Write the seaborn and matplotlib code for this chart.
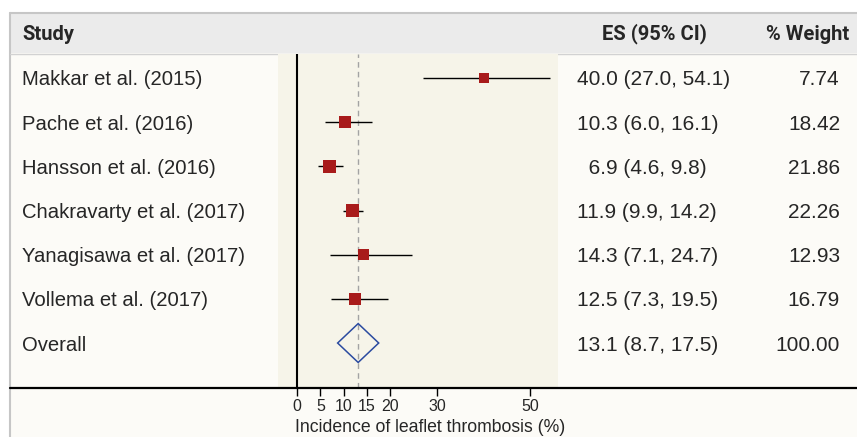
import numpy as np
import pandas as pd
import matplotlib
matplotlib.use("Agg")
import matplotlib.pyplot as plt
from matplotlib.patches import Rectangle
from matplotlib.lines import Line2D
from matplotlib.transforms import blended_transform_factory
import seaborn as sns

studies = ["Makkar et al. (2015)", "Pache et al. (2016)", "Hansson et al. (2016)",
           "Chakravarty et al. (2017)", "Yanagisawa et al. (2017)", "Vollema et al. (2017)"]
es = [40.0, 10.3, 6.9, 11.9, 14.3, 12.5]
lo = [27.0, 6.0, 4.6, 9.9, 7.1, 7.3]
hi = [54.1, 16.1, 9.8, 14.2, 24.7, 19.5]
weights = [7.74, 18.42, 21.86, 22.26, 12.93, 16.79]
overall_label = "Overall"
overall_es, overall_lo, overall_hi, overall_w = 13.1, 8.7, 17.5, 100.00
xticks = [0, 5, 10, 15, 20, 30, 50]
xlabel = "Incidence of leaflet thrombosis (%)"

sns.set_style("white")
plt.rcParams["font.family"] = ["Liberation Sans", "DejaVu Sans"]

W, H = 857, 437
fig = plt.figure(figsize=(W / 100, H / 100), dpi=100)
fig.patch.set_facecolor("white")

def fx(x):
    return x / W

def fy(y):
    return 1 - y / H

# backgrounds
body = Rectangle((fx(10), 0), 1 - fx(10), fy(13), transform=fig.transFigure,
                 facecolor="#fcfbf7", edgecolor="none", zorder=-10)
head = Rectangle((fx(10), fy(53)), 1 - fx(10), fy(14) - fy(53), transform=fig.transFigure,
                 facecolor="#ebebeb", edgecolor="none", zorder=-9)
fig.patches.extend([body, head])
fig.lines.append(Line2D([fx(10), fx(10)], [0, fy(13)], transform=fig.transFigure,
                        color="#c6c6c6", lw=1.5, zorder=-8))
fig.lines.append(Line2D([fx(10), 1], [fy(13), fy(13)], transform=fig.transFigure,
                        color="#c6c6c6", lw=1.5, zorder=-8))
fig.lines.append(Line2D([fx(10), 1], [fy(53.5), fy(53.5)], transform=fig.transFigure,
                        color="#d2d2d2", lw=1.0, zorder=-8))

# plot axes
ax_l, ax_r, ax_t, ax_b = 278, 558, 54, 387.5
ax = fig.add_axes([fx(ax_l), fy(ax_b), fx(ax_r) - fx(ax_l), fy(ax_t) - fy(ax_b)])
ax.set_facecolor("#f6f4e9")

n = len(studies)
rows = list(range(n))
df = pd.DataFrame({"study": studies, "es": es, "lo": lo, "hi": hi, "w": weights, "row": rows})

ax.axvline(0, color="black", lw=1.5, zorder=2)
ax.axvline(overall_es, color="#a3a3a3", lw=1.0, ls=(0, (4, 3)), zorder=1)
ax.hlines(df["row"], df["lo"], df["hi"], color="black", lw=1.0, zorder=3)
sns.scatterplot(data=df, x="es", y="row", size="w", sizes=(52, 88), marker="s",
                color="#a81b1b", linewidth=0, legend=False, ax=ax, zorder=4)

orow = n
h = 0.44
ax.fill([overall_lo, overall_es, overall_hi, overall_es, overall_lo],
        [orow, orow - h, orow, orow + h, orow],
        facecolor="none", edgecolor="#2b4ba0", lw=1.1, zorder=4)

ax.set_xlim(-4.07, 55.9)
ax.set_ylim(7.007, -0.543)
ax.set_yticks([])
ax.set_xticks(xticks)
ax.set_xticklabels([str(t) for t in xticks])
ax.tick_params(axis="x", direction="out", length=6, width=1, color="black",
               labelsize=11.5, pad=2, bottom=True)
for s in ax.spines.values():
    s.set_visible(False)
ax.set_ylabel("")
ax.set_xlabel(xlabel, fontsize=12.7, va="center")
ax.xaxis.set_label_coords((430 - ax_l) / (ax_r - ax_l), -(428 - ax_b) / (ax_b - ax_t))

# bottom black line
fig.lines.append(Line2D([fx(10), 1], [fy(388), fy(388)], transform=fig.transFigure,
                        color="black", lw=1.6, zorder=5))

# text columns
tr = blended_transform_factory(fig.transFigure, ax.transData)
fs_name = 14.6
fs_num = 15
for i, s in enumerate(studies + [overall_label]):
    fig.text(fx(22), i, s, transform=tr, ha="left", va="center_baseline", fontsize=fs_name)

all_es = es + [overall_es]
all_lo = lo + [overall_lo]
all_hi = hi + [overall_hi]
all_w = weights + [overall_w]
for i in range(n + 1):
    e = f"{all_es[i]:.1f}"
    if all_es[i] < 10:
        e = "\u2007" + e
    fig.text(fx(577), i, f"{e} ({all_lo[i]:.1f}, {all_hi[i]:.1f})", transform=tr,
             ha="left", va="center_baseline", fontsize=fs_num)
    fig.text(fx(840), i, f"{all_w[i]:.2f}", transform=tr, ha="right",
             va="center_baseline", fontsize=fs_num)

hfont = dict(fontsize=14.5, fontweight="bold", family=["Roboto", "DejaVu Sans"])
fig.text(fx(22), fy(34), "Study", ha="left", va="center", **hfont)
fig.text(fx(654), fy(34), "ES (95% CI)", ha="center", va="center", **hfont)
fig.text(fx(849), fy(34), "% Weight", ha="right", va="center", **hfont)

fig.savefig("out.png", dpi=100)
